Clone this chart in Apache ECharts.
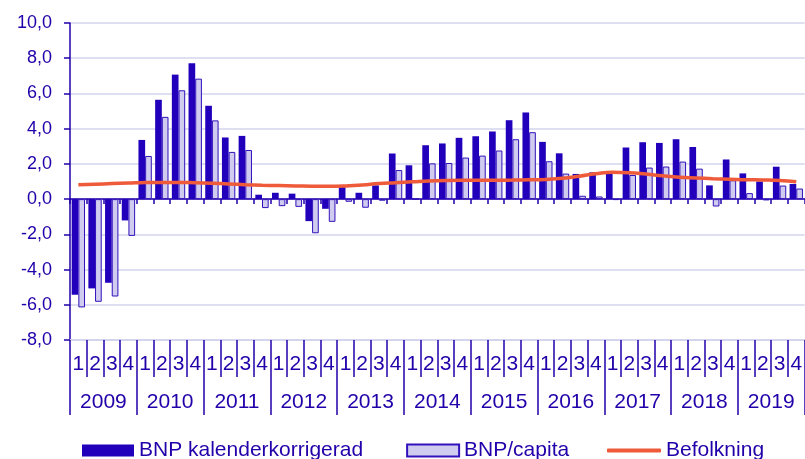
<!DOCTYPE html>
<html>
<head>
<meta charset="utf-8">
<script src="https://cdn.jsdelivr.net/npm/echarts@6/dist/echarts.min.js"></script>
<style>
  html, body { margin: 0; padding: 0; background: #fff; }
  #echarts_div { width: 805px; height: 459px; }
</style>
</head>
<body>
<div id="echarts_div"></div>
<script>
    var years = ['2009', '2010', '2011', '2012', '2013', '2014', '2015', '2016', '2017', '2018', '2019'];
    var quarterLabels = ['1', '2', '3', '4'];
    var yTicks = { min: -8, max: 10, step: 2 };

    // BNP kalenderkorrigerad
    var bnp = [
        -5.43, -5.07, -4.75, -1.21,
        3.36, 5.64, 7.07, 7.71,
        5.30, 3.50, 3.59, 0.25,
        0.36, 0.31, -1.25, -0.55,
        0.68, 0.36, 0.78, 2.59,
        1.92, 3.06, 3.16, 3.48,
        3.57, 3.84, 4.48, 4.92,
        3.25, 2.60, 1.43, 1.52,
        1.45, 2.93, 3.23, 3.19,
        3.40, 2.96, 0.78, 2.25,
        1.46, 1.00, 1.84, 0.86
    ];
    // BNP/capita
    var capita = [
        -6.15, -5.83, -5.53, -2.09,
        2.45, 4.67, 6.18, 6.84,
        4.47, 2.68, 2.79, -0.51,
        -0.40, -0.44, -1.94, -1.29,
        -0.15, -0.49, -0.09, 1.65,
        0.00, 2.03, 2.05, 2.36,
        2.47, 2.76, 3.40, 3.80,
        2.15, 1.45, 0.19, 0.15,
        -0.05, 1.37, 1.79, 1.85,
        2.13, 1.73, -0.42, 1.07,
        0.34, -0.07, 0.77, 0.60
    ];
    // Befolkning
    var befolkning = [
        0.82, 0.85, 0.88, 0.91,
        0.94, 0.95, 0.95, 0.93,
        0.90, 0.86, 0.82, 0.79,
        0.77, 0.75, 0.73, 0.73,
        0.75, 0.80, 0.88, 0.93,
        0.98, 1.03, 1.06, 1.07,
        1.07, 1.07, 1.08, 1.10,
        1.12, 1.18, 1.30, 1.44,
        1.52, 1.50, 1.42, 1.32,
        1.24, 1.20, 1.16, 1.13,
        1.10, 1.09, 1.06, 0.98
    ];

    var categories = [];
    var quarterAxis = [];
    years.forEach(function (y) {
        quarterLabels.forEach(function (q) {
            categories.push(y + 'K' + q);
            quarterAxis.push(q);
        });
    });

    var blue = '#2200AA';
    var font = 'Liberation Sans, Arial, sans-serif';
    var legendText = { color: blue, fontSize: 21, fontFamily: font };

    var myecharts = echarts.init(document.getElementById('echarts_div'));
    var option = {
        animation: false,
        grid: { left: 70, right: -9, top: 23, bottom: 119 },
        legend: [
            {
                left: 77,
                top: 435,
                itemWidth: 52,
                itemHeight: 12,
                itemGap: 43,
                textStyle: legendText,
                data: [
                    { name: 'BNP kalenderkorrigerad', icon: 'rect' },
                    { name: 'BNP/capita', icon: 'rect' }
                ]
            },
            {
                left: 602,
                top: 435,
                itemWidth: 54,
                itemHeight: 4,
                textStyle: legendText,
                data: [{ name: 'Befolkning', icon: 'roundRect' }]
            }
        ],
        xAxis: [
            {
                type: 'category',
                data: categories,
                axisLine: { onZero: true, lineStyle: { color: blue, width: 1.5 } },
                axisTick: { show: true, interval: 0, length: 5, lineStyle: { color: blue, width: 1.5 } },
                axisLabel: { show: false },
                splitLine: { show: false }
            },
            {
                type: 'category',
                data: quarterAxis,
                position: 'bottom',
                axisLine: { show: true, onZero: false, lineStyle: { color: '#D4D4EE', width: 1.5 } },
                axisTick: { show: true, interval: 0, length: 37, lineStyle: { color: blue, width: 1.5 } },
                axisLabel: { interval: 0, margin: 14, color: blue, fontSize: 21, fontFamily: font }
            },
            {
                type: 'category',
                data: years,
                position: 'bottom',
                axisLine: { show: true, onZero: false, lineStyle: { color: '#D4D4EE', width: 1.5 } },
                axisTick: { show: true, interval: 0, length: 75, lineStyle: { color: blue, width: 1.5 } },
                axisLabel: { interval: 0, margin: 52, color: blue, fontSize: 21, fontFamily: font }
            }
        ],
        yAxis: {
            type: 'value',
            min: yTicks.min,
            max: yTicks.max,
            interval: yTicks.step,
            axisLine: { show: true, lineStyle: { color: blue, width: 1.5 } },
            axisTick: { show: true, length: 6, lineStyle: { color: blue, width: 1.5 } },
            axisLabel: {
                margin: 18,
                color: blue,
                fontSize: 18,
                fontFamily: font,
                formatter: function (v) { return v.toFixed(1).replace('.', ','); }
            },
            splitLine: { lineStyle: { color: '#D4D4EE', width: 1.5 } }
        },
        series: [
            {
                name: 'BNP kalenderkorrigerad',
                type: 'bar',
                data: bnp,
                barGap: '0%',
                barCategoryGap: '20%',
                itemStyle: { color: '#2200BB' }
            },
            {
                name: 'BNP/capita',
                type: 'bar',
                data: capita,
                itemStyle: { color: '#CFCCF0', borderColor: '#3311BB', borderWidth: 1 }
            },
            {
                name: 'Befolkning',
                type: 'line',
                data: befolkning,
                smooth: true,
                symbol: 'none',
                z: 5,
                lineStyle: { color: '#EE5A3A', width: 3.5 },
                itemStyle: { color: '#EE5A3A' }
            }
        ]
    };

    myecharts.setOption(option);
</script>
</body>
</html>
